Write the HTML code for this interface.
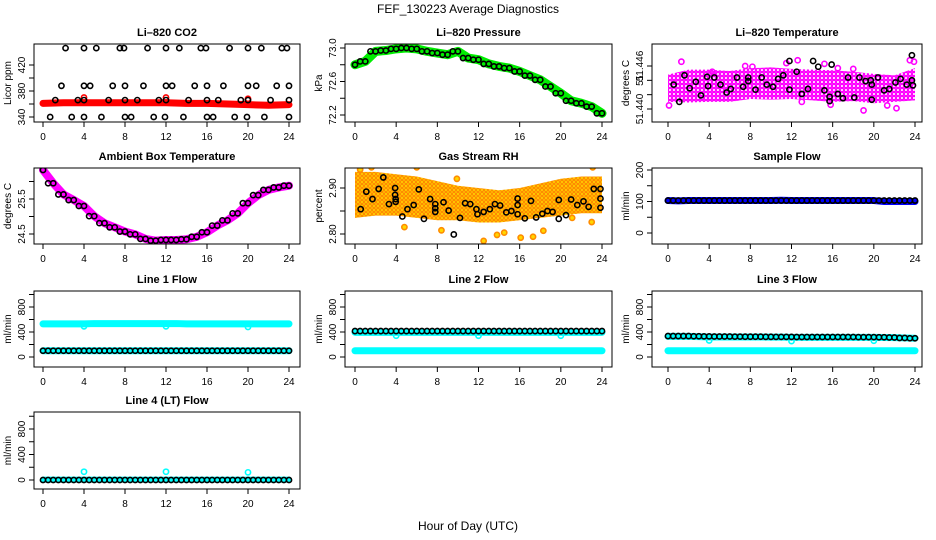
<!DOCTYPE html>
<html><head><meta charset="utf-8"><style>
html,body{margin:0;padding:0;background:#fff;}
svg{display:block;font-family:"Liberation Sans",sans-serif;}
.t{font-size:11px;font-weight:bold;text-anchor:middle;}
.k{font-size:10px;text-anchor:middle;}
</style></head><body>
<svg id="c" width="936" height="540" viewBox="0 0 936 540">
<defs>
<pattern id="pm" width="4" height="4" patternUnits="userSpaceOnUse"><circle cx="2" cy="2" r="1.8" fill="none" stroke="#ff00ff" stroke-width="1.5"/></pattern>
<pattern id="po" width="4" height="4" patternUnits="userSpaceOnUse"><rect width="4" height="4" fill="#ffd700"/><circle cx="2" cy="2" r="1.6" fill="none" stroke="#ff8c00" stroke-width="1.2"/></pattern>
</defs>
<text x="468" y="13" font-size="12" text-anchor="middle">FEF_130223  Average Diagnostics</text>
<text x="468" y="530" font-size="12" text-anchor="middle">Hour of Day (UTC)</text>
</svg>
<script>
// ---- data ----
const hourly = [0,1,2,3,4,5,6,7,8,9,10,11,12,13,14,15,16,17,18,19,20,21,22,23,24];
const biHourly = [0,2,4,6,8,10,12,14,16,18,20,22,24];
const xTicks = [0,4,8,12,16,20,24];
// CO2
const co2BlackHours = [2.2,4,5.2,7.5,7.9,10.2,12,13.3,15.4,15.9,18.2,20,21.3,23.3,23.8, 1.8,4,4.6,6.8,8,9.8,12,12.6,14.8,16,17.6,20,20.8,22.8,24, 1.2,3.4,4,6.4,8,9.2,11.3,12,14.2,16,17.1,19.3,20,22.2,24, 0.7,2.8,4,5.7,8,8.6,10.8,11.9,13.7,16,16.6,18.7,19.9,21.6,24];
const co2BlackVals = [446,446,446,446,446,446,446,446,446,446,446,446,446,446,446, 388,388,388,388,388,388,388,388,388,388,388,388,388,388,388, 366,366,366,366,366,366,366,366,366,366,366,366,366,366,366, 340,340,340,340,340,340,340,340,340,340,340,340,340,340,340];
const co2Red = [361,362,362,362,362,362,362,361,361,360,359,358,359];
const co2SpikeHours = [4,12,20];
const co2SpikeVals = [370,370,368];
// Pressure
const pressure = [72.80,72.84,72.96,72.97,72.99,73.0,72.99,72.96,72.94,72.92,72.96,72.88,72.86,72.81,72.78,72.76,72.72,72.67,72.62,72.54,72.46,72.37,72.34,72.30,72.22];
// Li-820 temperature
const tempLow = [51.4410,51.4409,51.4410,51.4410,51.4414,51.4413,51.4414,51.4412,51.4410,51.4411,51.4408,51.4410,51.4412];
const tempHigh = [51.4448,51.4455,51.4455,51.4453,51.4457,51.4458,51.4456,51.4455,51.4454,51.4452,51.4449,51.4447,51.4457];
const tempOutHours = [1.3,0.1,4.3,7.5,8.2,11.5,12.6,15.2,16.5,18.0,19,22.2,23.5,23.9,21.3,15.8,13];
const tempOutVals = [51.4466,51.4405,51.4452,51.4460,51.4459,51.4464,51.4468,51.4463,51.4457,51.4456,51.4398,51.4401,51.4468,51.4466,51.4405,51.4406,51.4410];
const tempBlackHours = [0.55,1.1,1.6,2.1,2.7,3.2,3.8,3.9,4.5,5.1,5.7,6.1,6.7,7.3,7.8,7.8,8.5,9.1,9.6,10.2,10.7,11.2,11.8,11.8,12.5,13,13.6,14.1,14.6,15.2,15.7,15.7,15.9,16.5,17,17.5,18.1,18.6,19.2,19.7,19.8,19.8,20.4,21,21.5,22.1,22.6,23.2,23.7,23.7,23.8];
const tempBlackVals = [51.4434,51.4410,51.4447,51.4429,51.4438,51.4419,51.4445,51.4432,51.4444,51.4434,51.4423,51.4428,51.4444,51.4431,51.4444,51.4439,51.4427,51.4444,51.4434,51.4431,51.4442,51.4447,51.4467,51.4427,51.4452,51.4421,51.4428,51.4467,51.4459,51.4426,51.4417,51.4411,51.4462,51.4421,51.4415,51.4444,51.4416,51.4444,51.4439,51.4440,51.4434,51.4413,51.4444,51.4426,51.4428,51.4437,51.4442,51.4434,51.4475,51.4440,51.4433];
// Ambient box temperature
const ambient = [26.33,25.95,25.63,25.47,25.30,25.01,24.81,24.69,24.57,24.49,24.36,24.31,24.33,24.33,24.35,24.42,24.55,24.74,24.89,25.09,25.38,25.61,25.76,25.83,25.88];
// Gas stream RH
const rhHigh = [2.935,2.935,2.93,2.925,2.915,2.905,2.90,2.895,2.90,2.91,2.92,2.925,2.925];
const rhLow = [2.835,2.84,2.84,2.835,2.83,2.83,2.825,2.825,2.83,2.835,2.84,2.845,2.845];
const rhOutHours = [0.5,1.6,3.0,6.0,9.9,4.8,8.4,12.5,13.8,14.5,16.1,17.3,18.3,23.1,21.1,23.0];
const rhOutVals = [2.94,2.945,2.95,2.945,2.92,2.815,2.808,2.785,2.798,2.803,2.792,2.794,2.807,2.945,2.835,2.826];
const rhBlackHours = [0.55,1.1,1.7,2.3,2.75,3.3,3.9,3.9,3.95,3.95,4.6,5.1,5.7,6.2,6.7,7.3,7.8,7.8,7.8,8.6,9.1,9.6,10.2,10.7,11.2,11.8,11.9,12.5,13.1,13.6,14.1,14.7,15.2,15.8,15.8,15.8,16.5,17.1,17.6,18.2,18.7,19.2,19.8,19.8,20.5,21.0,21.6,22.2,22.7,23.2,23.85,23.85,23.85];
const rhBlackVals = [2.854,2.892,2.876,2.898,2.923,2.865,2.900,2.885,2.876,2.870,2.838,2.854,2.863,2.897,2.833,2.876,2.865,2.856,2.848,2.869,2.851,2.799,2.835,2.867,2.865,2.854,2.843,2.848,2.854,2.865,2.862,2.847,2.850,2.843,2.877,2.863,2.834,2.872,2.836,2.844,2.850,2.848,2.874,2.833,2.841,2.875,2.863,2.871,2.859,2.898,2.898,2.877,2.857];
// Sample flow
const sampleBlue = [103,102,103,103,103,103,103,103,103,103,103,104,103,103,103,103,103,103,103,103,103,100,100,100,100];
const sampleBlack = [103,103,103,103,103,103,103,103,103,103,103,103,103,103,103,103,103,103,103,103,103,103,103,103,103];
// Line flows
const line1Cyan = [530,530,530,530,530,535,535,535,535,535,535,535,535,535,530,530,530,530,530,530,530,530,530,530,530];
const line1CyanLow = [100,100,100,100,100,100,100,100,100,100,100,100,100,100,100,100,100,100,100,100,100,100,100,100,100];
const line1Black = [100,100,100,100,100,100,100,100,100,100,100,100,100,100,100,100,100,100,100,100,100,100,100,100,100];
const line1DipHours = [4,12,20];
const line1DipVals = [490,490,480];
const line2CyanHigh = [395,395,395,395,395,395,395,395,395,395,395,395,395,395,395,395,395,395,395,395,395,395,395,395,395];
const line2CyanLow = [100,100,100,100,100,100,100,100,100,100,100,100,100,100,100,100,100,100,100,100,100,100,100,100,100];
const line2Black = [415,415,415,415,415,415,415,415,415,415,415,415,415,415,415,415,415,415,415,415,415,415,415,415,415];
const line2DipHours = [4,12,20];
const line2DipVals = [340,340,340];
const line3CyanHigh = [330,330,330,325,320,320,320,320,320,320,318,318,315,315,315,315,315,315,315,315,315,312,310,305,300];
const line3CyanLow = [100,100,100,100,100,100,100,100,100,100,100,100,100,100,100,100,100,100,100,100,100,100,100,100,100];
const line3Black = [335,335,335,332,330,328,328,326,325,325,323,322,322,320,320,320,320,320,320,318,318,316,312,305,300];
const line3DipHours = [4,12,20];
const line3DipVals = [265,255,260];
const line4Cyan = [5,5,5,5,5,5,5,5,5,5,5,5,5,5,5,5,5,5,5,5,5,5,5,5,5];
const line4Black = [0,0,0,0,0,0,0,0,0,0,0,0,0,0,0,0,0,0,0,0,0,0,0,0,0];
const line4SpikeHours = [4,12,20];
const line4SpikeVals = [130,130,120];

// ---- layout ----
const cols = [{L:34,R:300,x0:43,x24:289},{L:345,R:612,x0:355,x24:602},{L:652,R:922,x0:668,x24:915}];
const rows = [{T:44,B:122},{T:168,B:244},{T:291,B:367},{T:412,B:489}];
const svg = document.getElementById('c');
const NS = 'http://www.w3.org/2000/svg';
function mk(tag, attrs, parent){const e=document.createElementNS(NS,tag);for(const k in attrs)e.setAttribute(k,attrs[k]);(parent||svg).appendChild(e);return e;}

function panel(ci, ri, name, title, ylab, vA, pA, vB, pB, ticks, labels){
  const c=cols[ci], r=rows[ri];
  const g=mk('g',{});
  
  
  const xs=h=>c.x0+(h/24)*(c.x24-c.x0);
  const ys=v=>pA+(v-vA)*(pB-pA)/(vB-vA);
  const clip=mk('clipPath',{id:'cl'+name},g);
  mk('rect',{x:c.L,y:r.T,width:c.R-c.L,height:r.B-r.T},clip);
  const plot=mk('g',{'clip-path':'url(#cl'+name+')'},g);
  const box=mk('rect',{x:c.L,y:r.T,width:c.R-c.L,height:r.B-r.T,fill:'none',stroke:'#000','stroke-width':1},g);
  
  
  const tt=mk('text',{x:(c.L+c.R)/2,y:r.T-8,class:'t'},g); tt.textContent=title;
  
  
  xTicks.forEach(h=>{
    mk('line',{x1:xs(h),x2:xs(h),y1:r.B,y2:r.B+5,stroke:'#000'},g);
    const t=mk('text',{x:xs(h),y:r.B+18,class:'k'},g); t.textContent=h;
    
    
  });
  ticks.forEach((v,i)=>{
    const y=ys(v);
    mk('line',{x1:c.L-5,x2:c.L,y1:y,y2:y,stroke:'#000'},g);
    if(labels[i]){const t=mk('text',{x:0,y:0,class:'k',transform:`translate(${c.L-9},${y}) rotate(-90)`},g); t.textContent=labels[i];
      
      }
  });
  const yl=mk('text',{x:0,y:0,class:'k',transform:`translate(${c.L-23},${(r.T+r.B)/2}) rotate(-90)`},g); yl.textContent=ylab;
  
  
  return {xs,ys,plot};
}
function thick(p, hours, vals, color, w, name){
  const l=mk('polyline',{points:hours.map((h,i)=>p.xs(h)+','+p.ys(vals[i])).join(' '),fill:'none',stroke:color,'stroke-width':w,'stroke-linecap':'round','stroke-linejoin':'round'},p.plot);
  
  
}
function band(p, hours, lo, hi, fill, name){
  const pts=hours.map((h,i)=>p.xs(h)+','+p.ys(hi[i])).concat(hours.slice().reverse().map((h,j)=>{const i=hours.length-1-j;return p.xs(h)+','+p.ys(lo[i]);}));
  const e=mk('polygon',{points:pts.join(' '),fill:fill},p.plot);
  
  
}
function pts(p, hours, vals, color, name, fill){
  hours.forEach((h,i)=>{
    const e=mk('circle',{cx:p.xs(h),cy:p.ys(vals[i]),r:2.6,fill:fill||'none',stroke:color,'stroke-width':1.6},p.plot);
    
    
  });
}
function halfHourPts(p, vals, color, name){
  const hs=[],vs=[];
  vals.forEach((v,i)=>{ if(hourly[i]>0.3){hs.push(hourly[i]-0.5);vs.push(v);} hs.push(hourly[i]); vs.push(v);});
  pts(p, hs, vs, color, name);
}

// ---- panels ----
let p;
p=panel(0,0,'co2-panel','Li–820 CO2','Licor ppm',340,117,420,65,[340,360,380,400,420],['340','','380','','420']);
thick(p,biHourly,co2Red,'#ff0000',7,'co2-red-series');
pts(p,co2SpikeHours,co2SpikeVals,'#ff0000','co2-red-spike');
pts(p,co2BlackHours,co2BlackVals,'#000','co2-average-point');

p=panel(1,0,'pressure-panel','Li–820 Pressure','kPa',73.0,48,72.2,115,[72.2,72.4,72.6,72.8,73.0],['72.2','','72.6','','73.0']);
thick(p,hourly,pressure,'#00ee00',9,'pressure-green-series');
halfHourPts(p,pressure,'#000','pressure-average-point');

p=panel(2,0,'temperature-panel','Li–820 Temperature','degrees C',51.446,66,51.440,109,[51.440,51.442,51.444,51.446],['51.440','','51','51.446']);
band(p,biHourly,tempLow,tempHigh,'url(#pm)','temperature-magenta-cloud');
pts(p,tempOutHours,tempOutVals,'#ff00ff','temperature-outlier');
pts(p,tempBlackHours,tempBlackVals,'#000','temperature-average-point');

p=panel(0,1,'ambient-panel','Ambient Box Temperature','degrees C',25.5,199,24.5,234,[24.5,25,25.5,26],['24.5','','25.5','']);
thick(p,hourly,ambient,'#ff00ff',8,'ambient-magenta-series');
halfHourPts(p,ambient,'#000','ambient-average-point');

p=panel(1,1,'rh-panel','Gas Stream RH','percent',2.90,188,2.80,234,[2.80,2.85,2.90],['2.80','','2.90']);
band(p,biHourly,rhLow,rhHigh,'url(#po)','rh-orange-cloud');
pts(p,rhOutHours,rhOutVals,'#ff8c00','rh-outlier','#ffd700');
pts(p,rhBlackHours,rhBlackVals,'#000','rh-average-point');

p=panel(2,1,'sample-flow-panel','Sample Flow','ml/min',0,233,200,170,[0,50,100,150,200],['0','','100','','200']);
thick(p,hourly,sampleBlue,'#0000ff',7,'sample-blue-series');
halfHourPts(p,sampleBlack,'#000','sample-average-point');

const fT=[0,200,400,600,800,1000], fL=['0','','400','','800',''];
p=panel(0,2,'line1-panel','Line 1 Flow','ml/min',0,357,800,307,fT,fL);
thick(p,hourly,line1Cyan,'#00ffff',7,'line1-cyan-high');
thick(p,hourly,line1CyanLow,'#00ffff',7,'line1-cyan-low');
pts(p,line1DipHours,line1DipVals,'#00ffff','line1-cyan-dip');
halfHourPts(p,line1Black,'#000','line1-average-point');

p=panel(1,2,'line2-panel','Line 2 Flow','ml/min',0,357,800,307,fT,fL);
thick(p,hourly,line2CyanHigh,'#00ffff',7,'line2-cyan-high');
thick(p,hourly,line2CyanLow,'#00ffff',7,'line2-cyan-low');
pts(p,line2DipHours,line2DipVals,'#00ffff','line2-cyan-dip');
halfHourPts(p,line2Black,'#000','line2-average-point');

p=panel(2,2,'line3-panel','Line 3 Flow','ml/min',0,357,800,307,fT,fL);
thick(p,hourly,line3CyanHigh,'#00ffff',7,'line3-cyan-high');
thick(p,hourly,line3CyanLow,'#00ffff',7,'line3-cyan-low');
pts(p,line3DipHours,line3DipVals,'#00ffff','line3-cyan-dip');
halfHourPts(p,line3Black,'#000','line3-average-point');

p=panel(0,3,'line4-panel','Line 4 (LT) Flow','ml/min',0,480,800,429,fT,fL);
thick(p,hourly,line4Cyan,'#00ffff',6,'line4-cyan-series');
pts(p,line4SpikeHours,line4SpikeVals,'#00ffff','line4-cyan-spike');
halfHourPts(p,line4Black,'#000','line4-average-point');
</script>
</body></html>
